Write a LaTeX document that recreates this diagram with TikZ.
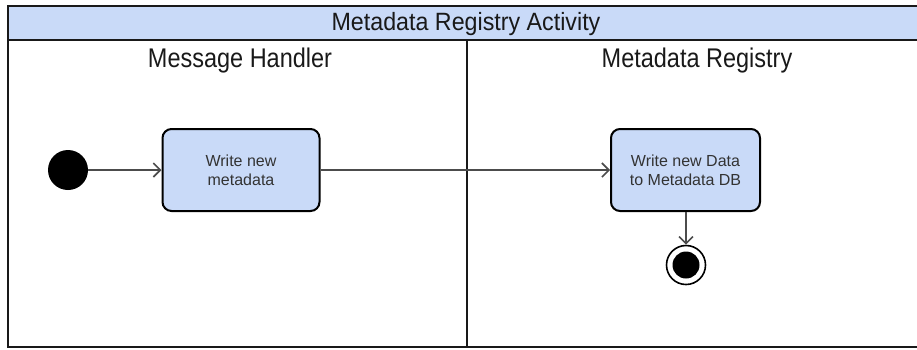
\documentclass[tikz,border=0pt]{standalone}
\usepackage{fontspec}
\setmainfont{Liberation Sans}
\newfontfamily\titlefont[FakeStretch=0.93]{Liberation Sans}
\newfontfamily\lanefont[FakeStretch=0.87]{Liberation Sans}
\usetikzlibrary{arrows.meta}
\definecolor{hdrblue}{HTML}{C9DAF8}
\definecolor{boxblue}{HTML}{C9DAF8}
\begin{document}
\begin{tikzpicture}[x=1pt,y=-1pt,
  lane/.style={draw=black!90, line width=2.2pt},
  actbox/.style={draw=black, fill=boxblue, line width=2pt, rounded corners=9pt, minimum width=157pt, minimum height=82pt, align=center, font=\fontsize{16}{19}\selectfont, text=black!80},
  flow/.style={draw=black!70, line width=1.5pt, -{Straight Barb[length=7pt,width=14pt,line width=1.6pt]}},
  titletext/.style={font=\titlefont\fontsize{25}{28}\selectfont, inner sep=0pt, anchor=base, text=black!90},
  lanetext/.style={font=\lanefont\fontsize{27}{30}\selectfont, inner sep=0pt, anchor=base, text=black!90}]
\useasboundingbox (0,0) rectangle (917,349);
% header
\fill[hdrblue] (8,6) rectangle (920,40);
\draw[lane] (920,6) -- (8,6) -- (8,347) -- (920,347);
\draw[lane] (8,40) -- (920,40);
\draw[lane] (467,40) -- (467,347);
\node[titletext] (title) at (466,30) {Metadata Registry Activity};
\node[lanetext] (lane1) at (240,67) {Message Handler};
\node[lanetext] (lane2) at (697,67) {Metadata Registry};
% nodes
\node[circle, fill=black, minimum size=40pt, inner sep=0pt] (start) at (68,170) {};
\node[actbox] (a1) at (241,170) {Write new\\metadata};
\node[actbox, minimum width=149pt] (a2) at (685.5,170) {Write new Data\\to Metadata DB};
\node[circle, draw=black, line width=1.6pt, fill=white, minimum size=39pt, inner sep=0pt] (end) at (686,265) {};
\node[circle, fill=black, minimum size=27pt, inner sep=0pt] (endin) at (686,265) {};
% connectors
\draw[flow] (start) -- (a1);
\draw[flow] (a1) -- (a2);
\draw[flow] (a2.south -| end) -- (end);
\end{tikzpicture}
\end{document}
